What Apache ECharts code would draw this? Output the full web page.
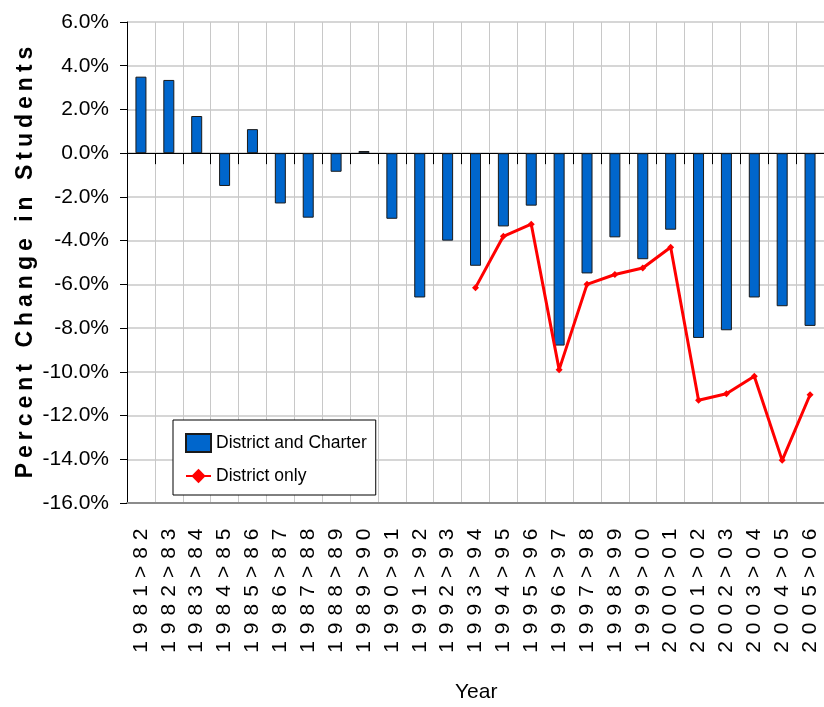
<!DOCTYPE html>
<html>
<head>
<meta charset="utf-8">
<script src="https://cdn.jsdelivr.net/npm/echarts@6/dist/echarts.min.js"></script>
<style>
  html, body { margin: 0; padding: 0; background: #fff; }
  #chart { width: 824px; height: 707px; }
</style>
</head>
<body>
<div id="chart"></div>
<script>
// school years
const years = [
  '1981>82', '1982>83', '1983>84', '1984>85', '1985>86', '1986>87', '1987>88',
  '1988>89', '1989>90', '1990>91', '1991>92', '1992>93', '1993>94', '1994>95',
  '1995>96', '1996>97', '1997>98', '1998>99', '1999>00', '2000>01', '2001>02',
  '2002>03', '2003>04', '2004>05', '2005>06'
];
// percent change, district + charter schools
const districtCharter = [
  3.5, 3.35, 1.7, -1.5, 1.1, -2.3, -2.95, -0.85, 0.1, -3.0, -6.6, -4.0, -5.15,
  -3.35, -2.4, -8.8, -5.5, -3.85, -4.85, -3.5, -8.45, -8.1, -6.6, -7.0, -7.9
];
// percent change, district only (starts 1993>94)
const districtOnly = [
  null, null, null, null, null, null, null, null, null, null, null, null, -6.15,
  -3.8, -3.25, -9.9, -6.0, -5.55, -5.25, -4.3, -11.3, -11.0, -10.2, -14.05, -11.05
];
const yMin = -16, yMax = 6, yStep = 2;

const FONT = "'Liberation Sans', Arial, sans-serif";

// wrap each character in a rich token so the glyphs can be spaced out
function spread(text, key) {
  return text.split('').map(c => '{' + key + '|' + c + '}').join('');
}

const chart = echarts.init(document.getElementById('chart'));

const option = {
  animation: false,
  backgroundColor: '#fff',
  title: {
    text: 'Year',
    left: 455,
    top: 682,
    padding: 0,
    textStyle: {
      fontFamily: FONT,
      fontSize: 21,
      fontWeight: 'normal',
      color: '#000'
    }
  },
  legend: {
    orient: 'vertical',
    left: 173,
    top: 420,
    padding: [13, 9, 10, 12],
    itemGap: 14,
    itemWidth: 25,
    itemHeight: 18,
    backgroundColor: '#fff',
    borderColor: '#000',
    borderWidth: 1,
    borderRadius: 0,
    data: [
      { name: 'District and Charter', icon: 'rect' },
      { name: 'District only' }
    ],
    textStyle: {
      fontFamily: FONT,
      fontSize: 17.5,
      color: '#000'
    }
  },
  grid: {
    left: 127,
    right: -5,
    top: 22,
    bottom: 204,
    containLabel: false
  },
  xAxis: [
    {
      type: 'category',
      data: years,
      position: 'bottom',
      axisLine: { onZero: true, lineStyle: { color: '#000', width: 1 } },
      axisTick: { show: true, interval: 0, length: 11, lineStyle: { color: '#000' } },
      axisLabel: { show: false, interval: 0 },
      splitLine: { show: true, interval: 0, lineStyle: { color: '#c8c8c8', width: 1 } }
    },
    {
      type: 'category',
      data: years,
      position: 'bottom',
      axisLine: { onZero: false, lineStyle: { color: '#8c8c8c', width: 2 } },
      axisTick: { show: false },
      splitLine: { show: false },
      axisLabel: {
        rotate: 90,
        margin: 22,
        interval: 0,
        formatter: v => spread(v, 'c'),
        rich: {
          c: {
            fontFamily: FONT,
            fontSize: 21,
            color: '#000',
            padding: [0, 3.5, 0, 3.5]
          }
        }
      }
    }
  ],
  yAxis: {
    type: 'value',
    min: yMin,
    max: yMax,
    interval: yStep,
    name: spread('Percent Change in Students', 'n'),
    nameLocation: 'middle',
    nameRotate: 90,
    nameGap: 90,
    nameMoveOverlap: false,
    nameTextStyle: {
      rich: {
        n: {
          fontFamily: FONT,
          fontWeight: 'bold',
          fontSize: 23,
          color: '#000',
          padding: [0, 2.5, 0, 2.5]
        }
      }
    },
    axisLine: { show: true, lineStyle: { color: '#000', width: 1 } },
    axisTick: { show: true, length: 7, lineStyle: { color: '#000' } },
    axisLabel: {
      margin: 18,
      fontFamily: FONT,
      fontSize: 21,
      color: '#000',
      formatter: v => v.toFixed(1) + '%'
    },
    splitLine: { show: true, lineStyle: { color: '#c8c8c8', width: 1.5 } }
  },
  series: [
    {
      name: 'District and Charter',
      type: 'bar',
      xAxisIndex: 0,
      barWidth: 11,
      data: districtCharter,
      itemStyle: {
        color: '#0066cc',
        borderColor: '#1a1a1a',
        borderWidth: 1
      }
    },
    {
      name: 'District only',
      type: 'line',
      xAxisIndex: 0,
      data: districtOnly,
      connectNulls: false,
      symbol: 'diamond',
      symbolSize: 7,
      itemStyle: { color: '#ff0000' },
      lineStyle: { color: '#ff0000', width: 3 }
    }
  ]
};

chart.setOption(option);
window.addEventListener('resize', () => chart.resize());
</script>
</body>
</html>
